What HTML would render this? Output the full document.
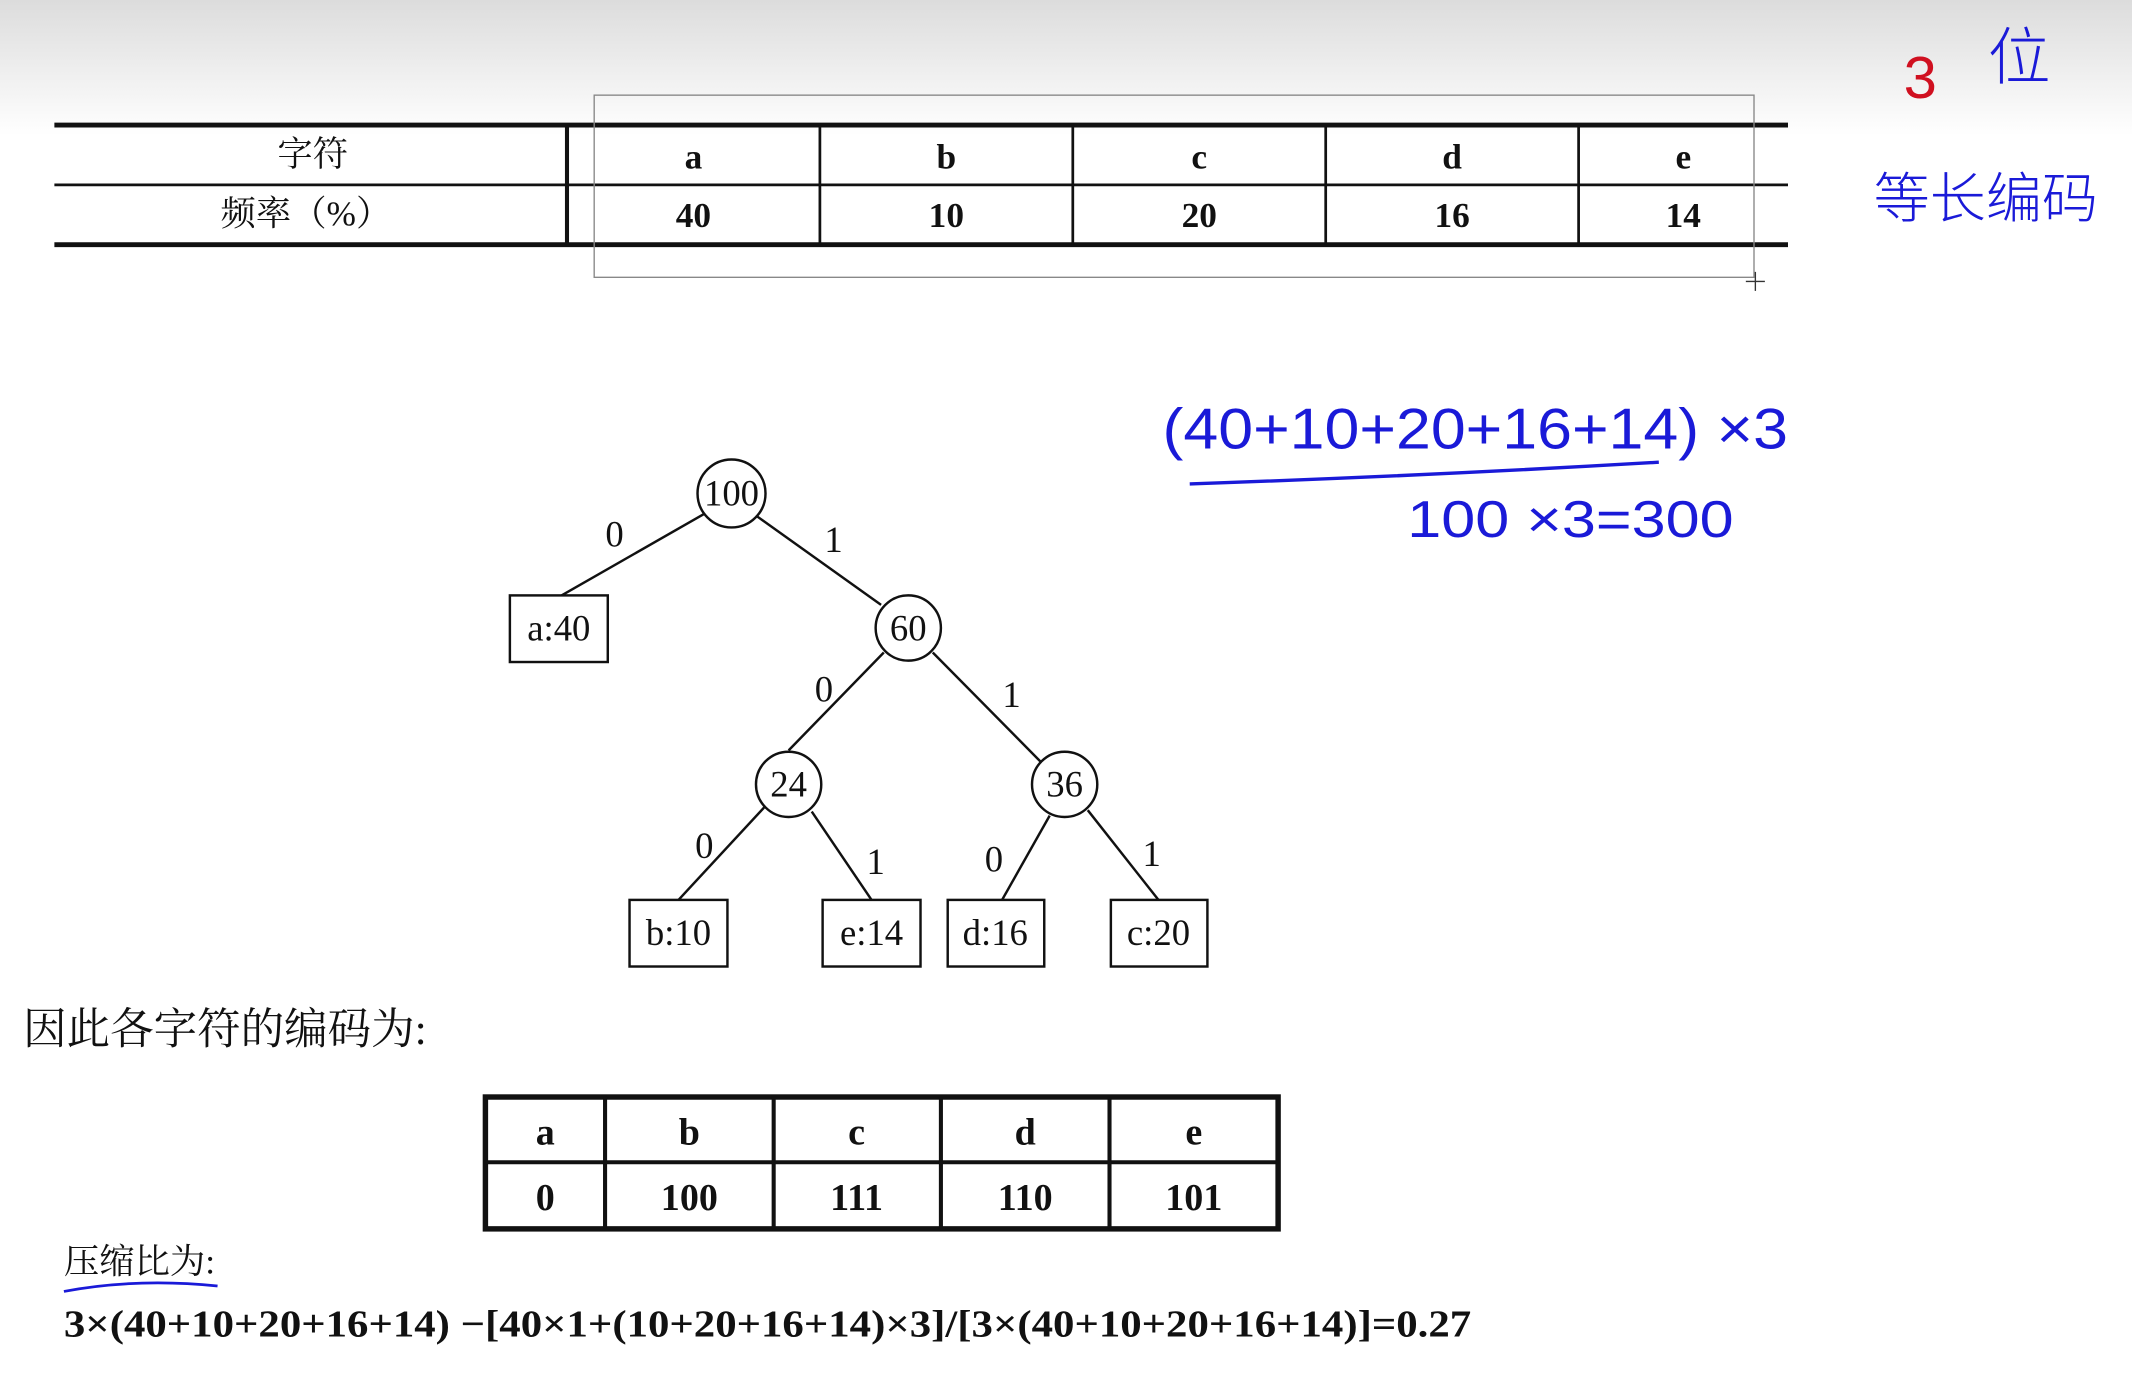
<!DOCTYPE html>
<html><head><meta charset="utf-8"><style>
html,body{margin:0;padding:0;background:#fff;}
svg{display:block}
.s{font-family:"Liberation Serif","Noto Serif CJK SC",serif;fill:#111}
.h{font-family:"Liberation Sans","Noto Sans CJK SC",sans-serif;fill:#1a1ad8;font-weight:300}
</style></head><body>
<svg width="2132" height="1392" viewBox="0 0 1568 1024" preserveAspectRatio="none" xmlns="http://www.w3.org/2000/svg">
<defs><linearGradient id="g" x1="0" y1="0" x2="0" y2="1"><stop offset="0" stop-color="#dcdcdc"/><stop offset="1" stop-color="#fff"/></linearGradient></defs>
<rect width="1568" height="1024" fill="#fff"/>
<rect width="1568" height="100" fill="url(#g)"/>
<g stroke="#111">
<line x1="40" y1="92" x2="1315" y2="92" stroke-width="3.5"/>
<line x1="40" y1="136" x2="1315" y2="136" stroke-width="2"/>
<line x1="40" y1="180" x2="1315" y2="180" stroke-width="3.5"/>
<line x1="417" y1="92" x2="417" y2="180" stroke-width="3"/>
<line x1="603" y1="92" x2="603" y2="180" stroke-width="2"/>
<line x1="789" y1="92" x2="789" y2="180" stroke-width="2"/>
<line x1="975" y1="92" x2="975" y2="180" stroke-width="2"/>
<line x1="1161" y1="92" x2="1161" y2="180" stroke-width="2"/>
</g>
<rect x="437" y="70" width="853" height="134" fill="none" stroke="#888" stroke-width="1"/>
<line x1="1284" y1="207" x2="1298" y2="207" stroke="#333"/><line x1="1291" y1="200" x2="1291" y2="214" stroke="#333"/>
<g class="s" font-size="26" text-anchor="middle" font-weight="bold">
<text x="230" y="122" font-weight="normal">字符</text>
<text x="225" y="166" font-weight="normal">频率（%）</text>
<text x="510" y="124">a</text><text x="696" y="124">b</text><text x="882" y="124">c</text><text x="1068" y="124">d</text><text x="1238" y="124">e</text>
<text x="510" y="167">40</text><text x="696" y="167">10</text><text x="882" y="167">20</text><text x="1068" y="167">16</text><text x="1238" y="167">14</text>
</g>
<g stroke="#111" stroke-width="1.8" fill="none">
<line x1="518" y1="378" x2="413" y2="438"/>
<line x1="557" y1="380" x2="648" y2="445"/>
<line x1="650" y1="480" x2="580" y2="552"/>
<line x1="686" y1="480" x2="765" y2="560"/>
<line x1="562" y1="594" x2="499" y2="662"/>
<line x1="597" y1="597" x2="641" y2="662"/>
<line x1="772" y1="600" x2="737" y2="662"/>
<line x1="800" y1="596" x2="852" y2="662"/>
<circle cx="538" cy="363" r="25" fill="#fff"/>
<circle cx="668" cy="462" r="24" fill="#fff"/>
<circle cx="580" cy="577" r="24" fill="#fff"/>
<circle cx="783" cy="577" r="24" fill="#fff"/>
<rect x="375" y="438" width="72" height="49"/>
<rect x="463" y="662" width="72" height="49"/>
<rect x="605" y="662" width="72" height="49"/>
<rect x="697" y="662" width="71" height="49"/>
<rect x="817" y="662" width="71" height="49"/>
</g>
<g class="s" font-size="27" text-anchor="middle">
<text x="538" y="372">100</text><text x="668" y="471">60</text><text x="580" y="586">24</text><text x="783" y="586">36</text>
<text x="411" y="471">a:40</text><text x="499" y="695">b:10</text><text x="641" y="695">e:14</text><text x="732" y="695">d:16</text><text x="852" y="695">c:20</text>
<text x="452" y="402">0</text><text x="613" y="406">1</text><text x="606" y="516">0</text><text x="744" y="520">1</text>
<text x="518" y="631">0</text><text x="644" y="643">1</text><text x="731" y="641">0</text><text x="847" y="637">1</text>
</g>
<text class="s" x="17" y="768" font-size="32">因此各字符的编码为:</text>
<g stroke="#111" fill="none">
<rect x="357" y="807" width="583" height="97" stroke-width="4"/>
<line x1="357" y1="855" x2="940" y2="855" stroke-width="3"/>
<line x1="445" y1="807" x2="445" y2="904" stroke-width="3"/>
<line x1="569" y1="807" x2="569" y2="904" stroke-width="3"/>
<line x1="692" y1="807" x2="692" y2="904" stroke-width="3"/>
<line x1="816" y1="807" x2="816" y2="904" stroke-width="3"/>
</g>
<g class="s" font-size="28" text-anchor="middle" font-weight="bold">
<text x="401" y="842">a</text><text x="507" y="842">b</text><text x="630" y="842">c</text><text x="754" y="842">d</text><text x="878" y="842">e</text>
<text x="401" y="890">0</text><text x="507" y="890">100</text><text x="630" y="890">111</text><text x="754" y="890">110</text><text x="878" y="890">101</text>
</g>
<text class="s" x="47" y="937" font-size="26">压缩比为:</text>
<path d="M47 950 Q100 940 160 946" stroke="#1a1ad8" stroke-width="2" fill="none"/>
<text class="s" x="47" y="983" font-size="28" font-weight="bold" textLength="1035" lengthAdjust="spacingAndGlyphs">3×(40+10+20+16+14) −[40×1+(10+20+16+14)×3]/[3×(40+10+20+16+14)]=0.27</text>
<text x="1400" y="72" font-size="44" fill="#d01020" font-family="Liberation Sans,sans-serif">3</text>
<text class="h" x="1462" y="58" font-size="46">位</text>
<text class="h" x="1378" y="160" font-size="40" textLength="165" lengthAdjust="spacingAndGlyphs">等长编码</text>
<text class="h" x="855" y="330" font-size="42" textLength="460" lengthAdjust="spacingAndGlyphs">(40+10+20+16+14) ×3</text>
<path d="M875 356 Q1050 350 1220 340" stroke="#1a1ad8" stroke-width="2.5" fill="none"/>
<text class="h" x="1035" y="395" font-size="38" textLength="240" lengthAdjust="spacingAndGlyphs">100 ×3=300</text>
</svg>
</body></html>
